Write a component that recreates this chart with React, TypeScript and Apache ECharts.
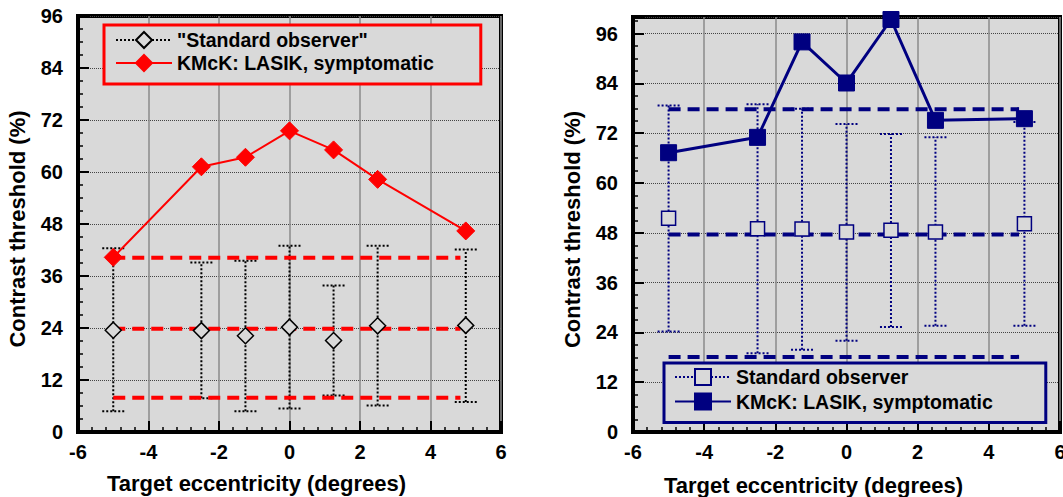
import React, { useEffect, useRef } from "react";
import * as echarts from "echarts";

// ---------- data ----------
const eccentricity = [-5, -2.5, -1.25, 0, 1.25, 2.5, 5];

// Left panel (red)
const leftPatient = [40.3, 61.2, 63.4, 69.5, 65.1, 58.3, 46.4];
const leftStdMean = [23.5, 23.4, 22.2, 24.2, 21.1, 24.5, 24.6];
const leftStdLow = [4.8, 7.8, 4.8, 5.4, 8.4, 6.1, 6.9];
const leftStdHigh = [42.4, 39.1, 39.5, 43.0, 33.8, 43.0, 42.1];
const leftLimits = [40.2, 23.8, 7.9];

// Right panel (navy)
const rightPatient = [67.3, 71.0, 94.0, 84.1, 99.4, 75.1, 75.5];
const rightStdMean = [51.5, 49.0, 48.9, 48.2, 48.6, 48.2, 50.2];
const rightStdLow = [24.2, 19.0, 19.8, 22.0, 25.3, 25.6, 25.6];
const rightStdHigh = [78.7, 79.0, 77.9, 74.2, 71.8, 71.0, 74.7];
const rightLimits = [77.8, 47.6, 18.1];

const limitSpan = [-5, 4.85];
const xRange = [-6, 6];
const xStep = 2;
const yStep = 12;

const PATIENT = "KMcK: LASIK, symptomatic";
const FONT = "Arial, 'Liberation Sans', sans-serif";
const BG = "#d9d9d9";

type Panel = {
  color: string;
  stdColor: string;
  stdName: string;
  symbol: string;
  patient: number[];
  mean: number[];
  low: number[];
  high: number[];
  limits: number[];
  yMax: number;
  grid: any;
  legend: any;
  xNameGap: number;
  patientSize: number;
  stdSize: number;
  patientWidth: number;
};

function buildOption(p: Panel): any {
  const errData = eccentricity.map((x, i) => [x, p.low[i], p.high[i]]);
  const limitSeries = p.limits.map((v, i) => ({
    type: "line",
    name: "limit" + i,
    data: limitSpan.map((x) => [x, v]),
    symbol: "none",
    lineStyle: { color: p.color, width: 4, type: [12, 7] },
    z: 3,
    silent: true,
  }));
  return {
    animation: false,
    textStyle: { fontFamily: FONT },
    grid: {
      ...p.grid,
      show: true,
      backgroundColor: BG,
      borderColor: "#000",
      borderWidth: 4,
      containLabel: false,
      outerBoundsMode: "none",
    },
    legend: {
      ...p.legend,
      orient: "vertical",
      backgroundColor: BG,
      borderColor: p.color,
      borderWidth: 3,
      borderRadius: 0,
      itemHeight: 20,
      textStyle: { fontFamily: FONT, fontWeight: "bold", fontSize: 19.5, color: "#000" },
      selectedMode: false,
      data: [
        {
          name: p.stdName,
          lineStyle: { width: 2, type: [2, 2], color: p.stdColor, opacity: 1 },
        },
        { name: PATIENT },
      ],
    },
    xAxis: {
      type: "value",
      min: xRange[0],
      max: xRange[1],
      interval: xStep,
      name: "Target eccentricity (degrees)",
      nameLocation: "middle",
      nameGap: p.xNameGap,
      nameTextStyle: {
        fontFamily: FONT,
        fontWeight: "bold",
        fontSize: 22,
        color: "#000",
        padding: [0, 66, 0, 0],
      },
      axisLine: { show: true, onZero: false, lineStyle: { color: "#000", width: 4 } },
      axisTick: { show: true, inside: true, length: 11, lineStyle: { color: "#000", width: 2 } },
      minorTick: { show: true, splitNumber: 5, length: 5, lineStyle: { color: "#000", width: 1.5 } },
      axisLabel: { fontFamily: FONT, fontWeight: "bold", fontSize: 20, color: "#000", margin: 10 },
      splitLine: { show: true, lineStyle: { color: "#8a8a8a", width: 1.5 } },
    },
    yAxis: {
      type: "value",
      min: 0,
      max: p.yMax,
      interval: yStep,
      name: "Contrast threshold (%)",
      nameLocation: "middle",
      nameRotate: 90,
      nameGap: 50,
      nameTextStyle: {
        fontFamily: FONT,
        fontWeight: "bold",
        fontSize: 22,
        color: "#000",
        padding: [0, 10, 0, 0],
      },
      axisLine: { show: true, onZero: false, lineStyle: { color: "#000", width: 4 } },
      axisTick: { show: true, inside: true, length: 11, lineStyle: { color: "#000", width: 2 } },
      minorTick: { show: true, splitNumber: 4, length: 5, lineStyle: { color: "#000", width: 1.5 } },
      axisLabel: {
        fontFamily: FONT,
        fontWeight: "bold",
        fontSize: 20,
        color: "#000",
        margin: 15,
        showMaxLabel: p.yMax % yStep === 0,
      },
      splitLine: { show: true, lineStyle: { color: "#444", width: 1, type: "dotted" } },
    },
    series: [
      {
        type: "custom",
        name: "errorbars",
        data: errData,
        encode: { x: 0, y: [1, 2] },
        z: 2,
        silent: true,
        clip: false,
        renderItem: (params: any, api: any) => {
          const x = api.value(0);
          const lo = api.coord([x, api.value(1)]);
          const hi = api.coord([x, api.value(2)]);
          const half = 11;
          const style = {
            stroke: p.stdColor,
            lineWidth: 2,
            lineDash: [2, 2],
            fill: null,
          };
          return {
            type: "group",
            children: [
              { type: "line", shape: { x1: lo[0], y1: lo[1], x2: hi[0], y2: hi[1] }, style },
              { type: "line", shape: { x1: lo[0] - half, y1: lo[1], x2: lo[0] + half, y2: lo[1] }, style },
              { type: "line", shape: { x1: hi[0] - half, y1: hi[1], x2: hi[0] + half, y2: hi[1] }, style },
            ],
          };
        },
      },
      ...limitSeries,
      {
        type: "line",
        name: p.stdName,
        data: eccentricity.map((x, i) => [x, p.mean[i]]),
        symbol: p.symbol,
        symbolSize: p.stdSize,
        showAllSymbol: true,
        clip: false,
        lineStyle: { width: 0, opacity: 0 },
        itemStyle: {
          color: BG,
          borderColor: p.stdColor,
          borderWidth: 1.5,
        },
        z: 4,
      },
      {
        type: "line",
        name: PATIENT,
        data: eccentricity.map((x, i) => [x, p.patient[i]]),
        symbol: p.symbol,
        symbolSize: p.patientSize,
        showAllSymbol: true,
        clip: false,
        lineStyle: { color: p.color, width: p.patientWidth },
        itemStyle: { color: p.color, borderColor: p.color, borderWidth: 1 },
        z: 5,
      },
    ],
  };
}

const leftPanel: Panel = {
  color: "#ff0000",
  stdColor: "#000000",
  stdName: '"Standard observer"',
  symbol: "diamond",
  patient: leftPatient,
  mean: leftStdMean,
  low: leftStdLow,
  high: leftStdHigh,
  limits: leftLimits,
  yMax: 96,
  grid: { left: 78, top: 16, width: 423, height: 416 },
  legend: { left: 104, top: 25, padding: [5, 47, 11, 11], itemWidth: 56, itemGap: 3 },
  xNameGap: 40,
  patientSize: 18,
  stdSize: 16,
  patientWidth: 2,
};

const rightPanel: Panel = {
  color: "#000080",
  stdColor: "#000080",
  stdName: "Standard observer",
  symbol: "rect",
  patient: rightPatient,
  mean: rightStdMean,
  low: rightStdLow,
  high: rightStdHigh,
  limits: rightLimits,
  yMax: 100,
  grid: { left: 101, top: 17, width: 427, height: 415 },
  legend: { left: 132, top: 363, padding: [4, 53, 11, 10], itemWidth: 56, itemGap: 4.5 },
  xNameGap: 42,
  patientSize: 16,
  stdSize: 14,
  patientWidth: 3,
};

function ChartPanel({ panel, width }: { panel: Panel; width: number }) {
  const ref = useRef<HTMLDivElement>(null);
  useEffect(() => {
    if (!ref.current) return;
    const chart = echarts.init(ref.current, undefined, { renderer: "svg" });
    chart.setOption(buildOption(panel));
    return () => chart.dispose();
  }, [panel]);
  return <div ref={ref} style={{ width, height: 497 }} />;
}

export default function App() {
  return (
    <div style={{ position: "absolute", left: 0, top: 0, width: 1063, height: 497, display: "flex", background: "#fff" }}>
      <ChartPanel panel={leftPanel} width={532} />
      <ChartPanel panel={rightPanel} width={531} />
    </div>
  );
}
